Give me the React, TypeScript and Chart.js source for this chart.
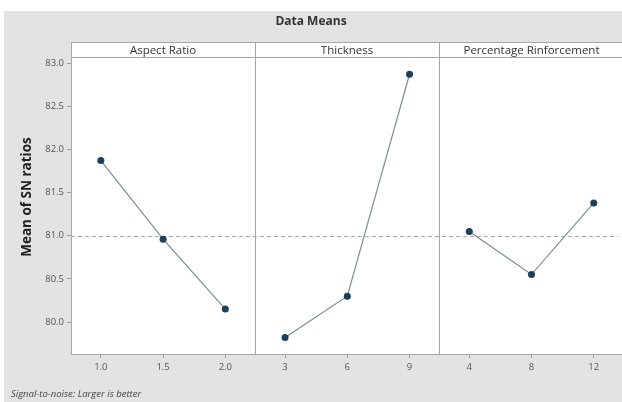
import { useEffect, useRef } from "react";
import { Chart, registerables } from "chart.js";

Chart.register(...registerables);

// ---- data ----
const chartTitle = "Data Means";
const yAxisTitle = "Mean of SN ratios";
const footNote = "Signal-to-noise: Larger is better";
const factorNames = ["Aspect Ratio", "Thickness", "Percentage Rinforcement"];
const aspectLevels = ["1.0", "1.5", "2.0"];
const thicknessLevels = ["3", "6", "9"];
const reinforcementLevels = ["4", "8", "12"];
const aspectMeans = [81.87, 80.96, 80.15];
const thicknessMeans = [79.82, 80.3, 82.87];
const reinforcementMeans = [81.05, 80.55, 81.38];
const yTickValues = [80.0, 80.5, 81.0, 81.5, 82.0, 82.5, 83.0];

// ---- layout constants ----
const W = 622;
const H = 402;
const PANEL_SPAN = 2.96;
const PANEL_PAD = (PANEL_SPAN - 2) / 2;
const X_MAX = 8.31;
const Y_MIN = 79.63;
const Y_MAX = 83.07;
const STRIP_TOP = 42;
const FONT = "'Open Sans', 'DejaVu Sans', sans-serif";

const levelSets = [aspectLevels, thicknessLevels, reinforcementLevels];
const meanSets = [aspectMeans, thicknessMeans, reinforcementMeans];
const allMeans = meanSets.flat();
const grandMean = allMeans.reduce((a, b) => a + b, 0) / allMeans.length;
const tickPositions: number[] = [];
const tickLabels: string[] = [];
levelSets.forEach((lv, p) =>
  lv.forEach((l, i) => {
    tickPositions.push(p * PANEL_SPAN + i);
    tickLabels.push(l);
  })
);

const decorPlugin = {
  id: "decor",
  beforeDraw(chart: any) {
    const { ctx, chartArea, scales } = chart;
    const x = scales.x;
    ctx.save();
    ctx.fillStyle = "#ffffff";
    ctx.fillRect(0, 0, W, H);
    ctx.fillStyle = "#e3e3e3";
    ctx.fillRect(4, 11, W - 4, H - 11);
    // panels
    factorNames.forEach((_, p) => {
      const l = Math.round(x.getPixelForValue(p * PANEL_SPAN - PANEL_PAD));
      const r = Math.round(x.getPixelForValue(p * PANEL_SPAN + 2 + PANEL_PAD));
      ctx.fillStyle = "#ffffff";
      ctx.fillRect(l, STRIP_TOP, r - l, chartArea.bottom - STRIP_TOP);
    });
    ctx.restore();
  },
  beforeDatasetsDraw(chart: any) {
    const { ctx, chartArea, scales } = chart;
    const yp = scales.y.getPixelForValue(grandMean);
    ctx.save();
    ctx.strokeStyle = "#a9a9a9";
    ctx.lineWidth = 1;
    ctx.setLineDash([4, 3]);
    ctx.beginPath();
    ctx.moveTo(chartArea.left, Math.round(yp) + 0.5);
    ctx.lineTo(chartArea.right, Math.round(yp) + 0.5);
    ctx.stroke();
    ctx.restore();
  },
  afterDraw(chart: any) {
    const { ctx, chartArea, scales } = chart;
    const x = scales.x;
    ctx.save();
    ctx.strokeStyle = "#a6a6a6";
    ctx.lineWidth = 1;
    factorNames.forEach((name, p) => {
      const l = Math.round(x.getPixelForValue(p * PANEL_SPAN - PANEL_PAD));
      const r = Math.round(x.getPixelForValue(p * PANEL_SPAN + 2 + PANEL_PAD));
      ctx.strokeRect(l + 0.5, STRIP_TOP + 0.5, r - l, chartArea.bottom - STRIP_TOP);
      ctx.beginPath();
      ctx.moveTo(l, Math.round(chartArea.top) + 0.5);
      ctx.lineTo(r, Math.round(chartArea.top) + 0.5);
      ctx.stroke();
      ctx.fillStyle = "#333333";
      ctx.font = `11.5px ${FONT}`;
      ctx.textAlign = "center";
      ctx.textBaseline = "middle";
      ctx.fillText(name, (l + r) / 2, (STRIP_TOP + chartArea.top) / 2 + 1);
    });
    // title
    ctx.fillStyle = "#333333";
    ctx.font = `bold 12px ${FONT}`;
    ctx.textAlign = "center";
    ctx.textBaseline = "middle";
    ctx.fillText(chartTitle, W / 2, 22);
    // y title
    ctx.save();
    ctx.translate(27, 197);
    ctx.rotate(-Math.PI / 2);
    ctx.font = `bold 13.5px ${FONT}`;
    ctx.fillStyle = "#222222";
    ctx.fillText(yAxisTitle, 0, 0);
    ctx.restore();
    // footnote
    ctx.font = `italic 9.5px ${FONT}`;
    ctx.fillStyle = "#444444";
    ctx.textAlign = "left";
    ctx.fillText(footNote, 11, 394);
    ctx.restore();
  },
};

export default function App() {
  const ref = useRef<HTMLCanvasElement>(null);
  useEffect(() => {
    if (!ref.current) return;
    const datasets = meanSets.map((means, p) => ({
      label: factorNames[p],
      data: means.map((m, i) => ({ x: p * PANEL_SPAN + i, y: m })),
      borderColor: "#7d8c95",
      borderWidth: 1.2,
      pointRadius: 3.5,
      pointBackgroundColor: "#1e3e5d",
      pointBorderColor: "#1e3e5d",
      pointBorderWidth: 0,
      showLine: true,
      fill: false,
      tension: 0,
    }));
    const chart = new Chart(ref.current, {
      type: "scatter",
      data: { datasets },
      plugins: [decorPlugin],
      options: {
        animation: false,
        responsive: false,
        devicePixelRatio: 1,
        layout: { padding: { left: 19, right: 0, top: 57, bottom: 18 } },
        plugins: { legend: { display: false }, tooltip: { enabled: false }, title: { display: false } },
        scales: {
          x: {
            type: "linear",
            min: -PANEL_PAD,
            max: X_MAX,
            afterBuildTicks: (s: any) => {
              s.ticks = tickPositions.map((v) => ({ value: v }));
            },
            afterFit: (s: any) => {
              s.height = 30;
            },
            ticks: {
              autoSkip: false,
              maxRotation: 0,
              padding: 4,
              color: "#555555",
              font: { size: 9.5, family: FONT },
              callback: (_v: any, i: number) => tickLabels[i],
            },
            grid: { drawOnChartArea: false, drawTicks: true, tickLength: 4, color: "#a0a0a0" },
            border: { display: false },
          },
          y: {
            type: "linear",
            min: Y_MIN,
            max: Y_MAX,
            afterBuildTicks: (s: any) => {
              s.ticks = yTickValues.map((v) => ({ value: v }));
            },
            afterFit: (s: any) => {
              s.width = 52;
            },
            ticks: {
              padding: 3,
              color: "#555555",
              font: { size: 9.5, family: FONT },
              callback: (v: any) => Number(v).toFixed(1),
            },
            grid: { drawOnChartArea: false, drawTicks: true, tickLength: 4, color: "#a0a0a0" },
            border: { display: false },
          },
        },
      },
    });
    return () => chart.destroy();
  }, []);
  return (
    <div style={{ position: "absolute", left: 0, top: 0, width: W, height: H, overflow: "hidden" }}>
      <canvas ref={ref} width={W} height={H} style={{ display: "block" }} />
    </div>
  );
}
